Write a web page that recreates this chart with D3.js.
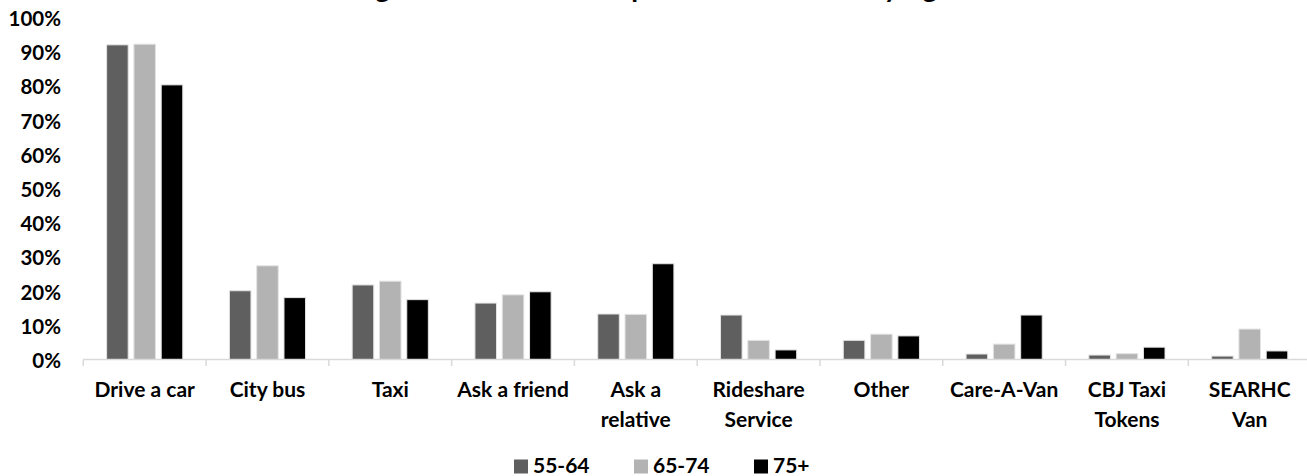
<!DOCTYPE html>
<html>
<head>
<meta charset="utf-8">
<script src="https://cdn.jsdelivr.net/npm/d3@7"></script>
<style>
  html, body { margin: 0; padding: 0; background: #ffffff; overflow: hidden; }
  svg { display: block; font-family: Lato, "Open Sans", sans-serif; font-weight: bold; }
</style>
</head>
<body>
<svg id="chart" width="1307" height="476"></svg>
<script>
const titleText = "Figure 3: Current Transportation Methods by Age";
const categories = [
  ["Drive a car"], ["City bus"], ["Taxi"], ["Ask a friend"], ["Ask a", "relative"],
  ["Rideshare", "Service"], ["Other"], ["Care-A-Van"], ["CBJ Taxi", "Tokens"], ["SEARHC", "Van"]
];
const seriesNames = ["55-64", "65-74", "75+"];
const seriesColors = ["#5f5f5f", "#b3b3b3", "#000000"];
const s5564 = [0.920, 0.201, 0.218, 0.165, 0.133, 0.130, 0.056, 0.016, 0.013, 0.010];
const s6574 = [0.922, 0.274, 0.229, 0.189, 0.132, 0.056, 0.074, 0.045, 0.017, 0.089];
const s75   = [0.803, 0.181, 0.175, 0.198, 0.280, 0.028, 0.069, 0.130, 0.036, 0.025];
const seriesValues = [s5564, s6574, s75];
const yTicks = [0, 0.1, 0.2, 0.3, 0.4, 0.5, 0.6, 0.7, 0.8, 0.9, 1.0];

const svg = d3.select("#chart");
const catKeys = categories.map(c => c.join(" "));

const x = d3.scaleBand().domain(catKeys).range([83.3, 1311.1]).paddingInner(0).paddingOuter(0);
const xs = d3.scaleBand().domain(seriesNames).range([0, x.bandwidth()]).paddingInner(0.21).paddingOuter(0.854);
const y = d3.scaleLinear().domain([0, 1]).range([359.5, 17.5]);

// title (clipped at top like the reference)
svg.append("text").attr("x", 652).attr("y", -2).attr("text-anchor", "middle")
  .attr("font-size", 27.5).attr("fill", "#000").text(titleText);

// y axis labels
const yAxis = d3.axisLeft(y).tickValues(yTicks).tickFormat(d3.format(".0%")).tickSize(0).tickPadding(0);
const gy = svg.append("g").attr("transform", "translate(61,1.5)").call(yAxis);
gy.select(".domain").remove();
gy.selectAll("text").attr("font-size", 20.5).attr("fill", "#000")
  .attr("font-family", "Lato, sans-serif").attr("font-weight", "bold");

// bars
seriesNames.forEach((s, si) => {
  svg.append("g").selectAll("rect").data(seriesValues[si]).join("rect")
    .attr("x", (d, i) => x(catKeys[i]) + xs(s))
    .attr("y", d => y(d))
    .attr("width", xs.bandwidth())
    .attr("height", d => y(0) - y(d))
    .attr("fill", seriesColors[si])
    .attr("stroke", "#e3e3e3")
    .attr("stroke-width", 1);
});

// x axis
const xAxis = d3.axisBottom(x).tickSize(0).tickFormat("");
const gx = svg.append("g").attr("transform", `translate(0,${y(0)})`).call(xAxis);
gx.select(".domain").attr("stroke", "#d9d9d9").attr("stroke-width", 1.5).attr("d", "M83.3,0H1311");
const bounds = catKeys.map(k => x(k));
gx.selectAll("line.sep").data(bounds).join("line").attr("class", "sep")
  .attr("x1", d => d).attr("x2", d => d).attr("y1", 0).attr("y2", 6.5)
  .attr("stroke", "#d9d9d9").attr("stroke-width", 1.5);

// x labels
const lab = svg.append("g");
categories.forEach((lines, i) => {
  const t = lab.append("text").attr("text-anchor", "middle").attr("font-size", 21).attr("fill", "#000");
  lines.forEach((ln, j) => {
    t.append("tspan").attr("x", x(catKeys[i]) + x.bandwidth() / 2).attr("y", 397 + j * 29.5).text(ln);
  });
});

// legend
const lg = svg.append("g");
seriesNames.forEach((s, i) => {
  const lx = 514 + i * 120;
  lg.append("rect").attr("x", lx).attr("y", 459.5).attr("width", 14).attr("height", 14).attr("fill", seriesColors[i]);
  lg.append("text").attr("x", lx + 19).attr("y", 473).attr("font-size", 21).attr("fill", "#000").text(s);
});
</script>
</body>
</html>
